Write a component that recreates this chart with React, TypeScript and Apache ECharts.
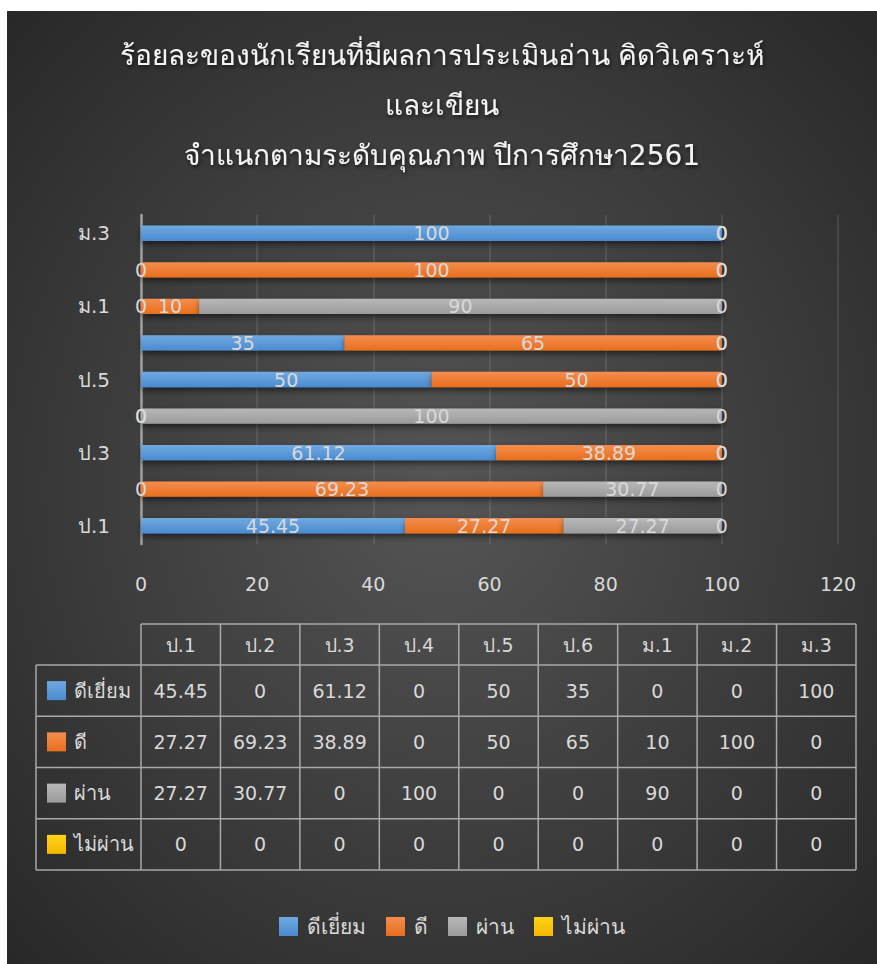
import React, { useEffect, useRef } from "react";
import * as echarts from "echarts";

const categories = ["ป.1", "ป.2", "ป.3", "ป.4", "ป.5", "ป.6", "ม.1", "ม.2", "ม.3"];
const seriesNames = ["ดีเยี่ยม", "ดี", "ผ่าน", "ไม่ผ่าน"];
const excellent = [45.45, 0, 61.12, 0, 50, 35, 0, 0, 100];
const good = [27.27, 69.23, 38.89, 0, 50, 65, 10, 100, 0];
const pass = [27.27, 30.77, 0, 100, 0, 0, 90, 0, 0];
const fail = [0, 0, 0, 0, 0, 0, 0, 0, 0];
const xTicks = [0, 20, 40, 60, 80, 100, 120];
const titleLines = [
  "ร้อยละของนักเรียนที่มีผลการประเมินอ่าน คิดวิเคราะห์",
  "และเขียน",
  "จำแนกตามระดับคุณภาพ ปีการศึกษา2561",
];

const FONT = "'DejaVu Sans', 'Noto Sans', sans-serif";
const LABEL = "#d9d9d9";

const grad = (top: string, bottom: string) =>
  new echarts.graphic.LinearGradient(0, 0, 0, 1, [
    { offset: 0, color: top },
    { offset: 1, color: bottom },
  ]);

const palette = [
  ["#70a9e0", "#4a8bd0"],
  ["#f48d4f", "#e86f1c"],
  ["#b8b8b8", "#9b9b9b"],
  ["#ffd21a", "#f4b800"],
];

export default function App() {
  const ref = useRef<HTMLDivElement>(null);
  useEffect(() => {
    if (!ref.current) return;
    const chart = echarts.init(ref.current, null, { renderer: "svg" });
    const dataSets = [excellent, good, pass, fail];

    // table layout
    const tLeft = 29;
    const tColStart = 134;
    const colW = (849 - 134) / categories.length;
    const tTop = 613;
    const headH = 41;
    const rowH = 51.25;
    const tRight = tColStart + colW * categories.length;
    const tBottom = tTop + headH + rowH * seriesNames.length;
    const lineStyle = { stroke: "#a9a9a9", lineWidth: 1.5 };
    const gfx: any[] = [];
    gfx.push({ type: "line", shape: { x1: tColStart, y1: tTop, x2: tRight, y2: tTop }, style: lineStyle, silent: true });
    for (let r = 0; r <= seriesNames.length; r++) {
      const y = tTop + headH + r * rowH;
      gfx.push({ type: "line", shape: { x1: tLeft, y1: y, x2: tRight, y2: y }, style: lineStyle, silent: true });
    }
    gfx.push({ type: "line", shape: { x1: tLeft, y1: tTop + headH, x2: tLeft, y2: tBottom }, style: lineStyle, silent: true });
    for (let c = 0; c <= categories.length; c++) {
      const x = tColStart + c * colW;
      gfx.push({ type: "line", shape: { x1: x, y1: tTop, x2: x, y2: tBottom }, style: lineStyle, silent: true });
    }
    categories.forEach((cat, c) => {
      gfx.push({
        type: "text",
        x: tColStart + (c + 0.5) * colW,
        y: tTop + headH / 2,
        style: { text: cat, fill: LABEL, font: `19px ${FONT}`, align: "center", verticalAlign: "middle" },
        silent: true,
      });
    });
    seriesNames.forEach((name, r) => {
      const cy = tTop + headH + (r + 0.5) * rowH;
      gfx.push({
        type: "rect",
        shape: { x: 40, y: cy - 9.5, width: 19, height: 19 },
        style: { fill: grad(palette[r][0], palette[r][1]) },
        silent: true,
      });
      gfx.push({
        type: "text",
        x: 67,
        y: cy,
        style: { text: name, fill: LABEL, font: `20px ${FONT}`, align: "left", verticalAlign: "middle" },
        silent: true,
      });
      dataSets[r].forEach((v, c) => {
        gfx.push({
          type: "text",
          x: tColStart + (c + 0.5) * colW,
          y: cy,
          style: { text: String(v), fill: LABEL, font: `19px ${FONT}`, align: "center", verticalAlign: "middle" },
          silent: true,
        });
      });
    });

    chart.setOption({
      animation: false,
      backgroundColor: {
        type: "radial",
        x: 0.5,
        y: 0.5,
        r: 0.72,
        colorStops: [
          { offset: 0, color: "#555555" },
          { offset: 1, color: "#272727" },
        ],
      },
      title: {
        text: titleLines.join("\n"),
        left: "center",
        top: 14,
        textStyle: {
          color: "#f4f4f4",
          fontSize: 28,
          fontWeight: "normal",
          fontFamily: FONT,
          lineHeight: 50,
          textShadowColor: "rgba(0,0,0,0.7)",
          textShadowBlur: 4,
          textShadowOffsetX: 1,
          textShadowOffsetY: 2,
        },
      },
      legend: {
        data: seriesNames,
        bottom: 22,
        left: 267,
        icon: "rect",
        itemWidth: 19,
        itemHeight: 19,
        itemGap: 20,
        textStyle: { color: LABEL, fontSize: 21, fontFamily: FONT, padding: [0, 0, 0, 4] },
      },
      grid: { left: 134, right: 39, top: 204, height: 329, containLabel: false },
      xAxis: {
        type: "value",
        min: xTicks[0],
        max: xTicks[xTicks.length - 1],
        interval: 20,
        axisLine: { show: false },
        axisTick: { show: false },
        axisLabel: { color: LABEL, fontSize: 19, fontFamily: FONT, margin: 30 },
        splitLine: { show: true, lineStyle: { color: "rgba(255,255,255,0.13)", width: 1.5 } },
      },
      yAxis: {
        type: "category",
        data: categories,
        axisLine: { show: true, lineStyle: { color: "#a0a0a0", width: 2.5 } },
        axisTick: { show: false },
        axisLabel: { color: LABEL, fontSize: 20, fontFamily: FONT, margin: 31, interval: 1 },
      },
      series: seriesNames.map((name, i) => ({
        name,
        type: "bar",
        stack: "total",
        data: dataSets[i],
        barCategoryGap: "58%",
        itemStyle: {
          color: grad(palette[i][0], palette[i][1]),
          shadowColor: "rgba(0,0,0,0.55)",
          shadowBlur: 6,
          shadowOffsetY: 3,
          shadowOffsetX: 1,
        },
        label: {
          show: true,
          position: "inside",
          color: LABEL,
          fontSize: 19,
          fontFamily: FONT,
        },
      })),
      graphic: gfx,
    });
    return () => chart.dispose();
  }, []);
  return (
    <div
      ref={ref}
      style={{ position: "absolute", left: 7, top: 11, width: 870, height: 953 }}
    />
  );
}
